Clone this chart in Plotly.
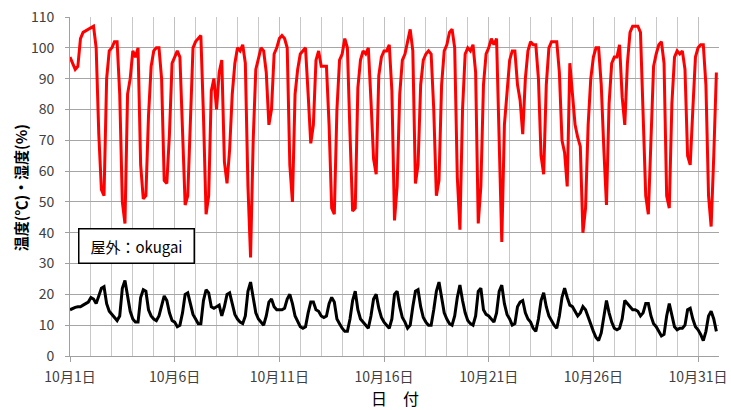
import pandas as pd
import plotly.graph_objects as go

# 3-hourly readings, Oct 1 00:00 .. Oct 31 21:00 (8 values per day)
humidity = [
    97, 95, 93, 94, 103, 105, 105.5, 106,      # 10/1
    106.5, 107, 100, 72, 54, 52, 90, 99,       # 10/2
    100, 102, 102, 85, 50, 43, 85, 90,         # 10/3
    99, 97, 100, 62, 51, 52, 78, 94,           # 10/4
    99, 100, 100, 90, 57, 56, 72, 95,          # 10/5
    97, 99, 97, 75, 49, 52, 75, 100,           # 10/6
    102, 103, 104, 78, 46, 52, 86, 90,         # 10/7
    80, 92, 96, 63, 56, 67, 85, 95,            # 10/8
    100, 99, 101, 95, 55, 32, 70, 93,          # 10/9
    97, 100, 99, 92, 75, 80, 98, 100,          # 10/10
    103, 104, 103, 100, 62, 50, 85, 93,        # 10/11
    98, 99, 100, 85, 69, 75, 96, 99,           # 10/12
    94, 94, 94, 75, 48, 46, 80, 96,            # 10/13
    98, 103, 100, 72, 47, 48, 87, 96,          # 10/14
    99, 98, 100, 83, 64, 59, 91, 97,           # 10/15
    99, 99, 101, 86, 44, 55, 85, 96,           # 10/16
    98, 102, 106, 99, 56, 62, 88, 96,          # 10/17
    98, 99, 98, 80, 52, 57, 88, 99,            # 10/18
    101, 105, 106, 100, 58, 41, 80, 98,        # 10/19
    100, 99, 101, 92, 43, 55, 88, 98,          # 10/20
    100, 103, 101, 103, 65, 37, 75, 87,        # 10/21
    96, 99, 99, 88, 83, 72, 90, 99,            # 10/22
    102, 101, 101, 90, 65, 59, 88, 100,        # 10/23
    102, 102, 102, 92, 70, 66, 55, 95,         # 10/24
    86, 75, 71, 68, 40, 48, 75, 90,            # 10/25
    97, 100, 100, 88, 67, 49, 82, 95,          # 10/26
    97, 97, 101, 84, 75, 95, 105, 107,         # 10/27
    107, 107, 105, 75, 52, 46, 70, 94,         # 10/28
    98, 101, 102, 95, 52, 48, 82, 97,          # 10/29
    99, 98, 99, 93, 65, 62, 80, 97,            # 10/30
    100, 101, 101, 88, 52, 42, 65, 92,         # 10/31
]

temperature = [
    15, 15.5, 15.8, 16, 16, 16.5, 17, 17.5,        # 10/1
    19, 18.5, 17, 19.5, 22, 22.5, 17, 14.5,        # 10/2
    13.5, 12.5, 11.5, 13, 22, 24.5, 19, 14.5,      # 10/3
    12, 11, 11, 19, 21.5, 21, 15, 13,              # 10/4
    12, 11.5, 13, 16, 19.5, 18, 14, 11.5,          # 10/5
    11, 9.5, 10, 14, 20, 20.5, 17, 13.5,           # 10/6
    12, 10.5, 10.5, 18, 21.5, 20.5, 16, 15.5,      # 10/7
    16, 16.5, 13, 16, 20, 20.5, 17, 13.5,          # 10/8
    12, 11, 10.5, 13, 21, 24, 19, 14,              # 10/9
    12, 11, 10, 13, 17.5, 18.5, 16, 15,            # 10/10
    15, 15, 15.5, 18.5, 20, 17, 13, 11,            # 10/11
    9.5, 9, 9.5, 14, 17.5, 17.5, 15, 14.5,         # 10/12
    13, 12.5, 13, 17, 19, 17.5, 12, 10.5,          # 10/13
    9, 8, 8, 12, 18, 21, 15, 12,                   # 10/14
    11, 10, 9, 13, 18.5, 20, 15.5, 12.5,           # 10/15
    11, 10, 9, 12, 20, 21, 16, 12.5,               # 10/16
    11, 9, 10, 16, 21, 21.5, 16, 12.5,             # 10/17
    11, 10, 10, 15, 21, 24, 19, 14,                # 10/18
    12, 10.5, 10, 13, 19, 23, 18, 14,              # 10/19
    11.5, 10.5, 10, 13, 21, 22, 15, 13.5,          # 10/20
    13, 12, 11, 14, 21, 23, 17, 13.5,              # 10/21
    12, 10, 10.5, 16, 17.5, 18, 14, 12,            # 10/22
    11, 9, 8, 12, 18, 20.5, 16, 13,                # 10/23
    11.5, 10, 9, 13, 19, 22, 19, 16.5,             # 10/24
    16, 14.5, 13, 14, 16, 15, 12.5, 10,            # 10/25
    8, 6, 5, 7.5, 12.5, 18, 14, 11,                # 10/26
    9, 8.5, 9, 12, 18, 17, 16, 15,                 # 10/27
    15, 14.5, 13, 14, 17, 17, 13, 10.5,            # 10/28
    9.5, 8, 6.5, 7, 13, 17, 13, 9.5,               # 10/29
    8.5, 9, 9, 10, 15, 15.5, 12, 9.5,              # 10/30
    8.5, 7, 5, 8, 13, 14.5, 12, 8,                 # 10/31
]

tick_dates = ["2013-10-01", "2013-10-06", "2013-10-11", "2013-10-16",
              "2013-10-21", "2013-10-26", "2013-10-31"]
tick_labels = ["10月1日", "10月6日", "10月11日", "10月16日",
               "10月21日", "10月26日", "10月31日"]
y_ticks = list(range(0, 111, 10))

times = pd.date_range("2013-10-01 00:00", periods=len(humidity), freq="3h")

font_jp = "Noto Sans CJK JP"

fig = go.Figure()
fig.add_trace(go.Scatter(x=times, y=humidity, mode="lines",
                         line=dict(color="#FF0000", width=3), name="湿度",
                         showlegend=False))
fig.add_trace(go.Scatter(x=times, y=temperature, mode="lines",
                         line=dict(color="#000000", width=3), name="温度",
                         showlegend=False))

fig.update_layout(
    width=731, height=410,
    margin=dict(l=70, r=12, t=17, b=54, autoexpand=False),
    paper_bgcolor="white", plot_bgcolor="white",
    font=dict(family=font_jp, size=14, color="#404040"),
)

fig.update_xaxes(
    type="date",
    range=["2013-10-01", "2013-11-01"],
    tickvals=tick_dates, ticktext=tick_labels,
    tickfont=dict(size=14, color="#404040"),
    showgrid=True, gridcolor="#c0c0c0", gridwidth=1,
    minor=dict(dtick=86400000, tick0="2013-10-01", showgrid=True,
               gridcolor="#c8c8c8", gridwidth=1),
    ticks="outside", ticklen=5, tickcolor="#a0a0a0",
    ticklabelstandoff=3,
    showline=True, linecolor="#a0a0a0", linewidth=1,
    zeroline=False, automargin=False,
)

fig.update_yaxes(
    range=[0, 110],
    tickvals=y_ticks,
    tickfont=dict(size=14, color="#404040"),
    showgrid=True, gridcolor="#a6a6a6", gridwidth=1,
    ticks="outside", ticklen=4, tickcolor="#a0a0a0",
    ticklabelstandoff=8,
    showline=True, linecolor="#a0a0a0", linewidth=1,
    zeroline=False, automargin=False,
)

# axis titles
fig.add_annotation(
    xref="paper", yref="paper", x=0.5, y=-0.124,
    xanchor="center", yanchor="middle", showarrow=False,
    text="日　付", font=dict(family=font_jp, size=16, color="#000000"),
    borderpad=0,
)
fig.add_annotation(
    xref="paper", yref="paper", x=-0.077, y=0.495,
    xanchor="center", yanchor="middle", showarrow=False, textangle=-90,
    text="<b>温度(℃)・湿度(%)</b>",
    font=dict(family=font_jp, size=15, color="#000000"),
)

fig.add_annotation(
    xref="paper", yref="paper", x=0.1017, y=0.3235,
    xanchor="center", yanchor="middle",
    text="屋外：okugai", showarrow=False,
    font=dict(family=font_jp, size=15, color="#000000"),
    bgcolor="white", bordercolor="#000000", borderwidth=1.5,
    borderpad=2, width=110, height=29,
)

fig.write_html(
    "out.html",
    config={"displayModeBar": False},
    post_script="document.body.style.margin='0';document.body.style.overflow='hidden';",
)
